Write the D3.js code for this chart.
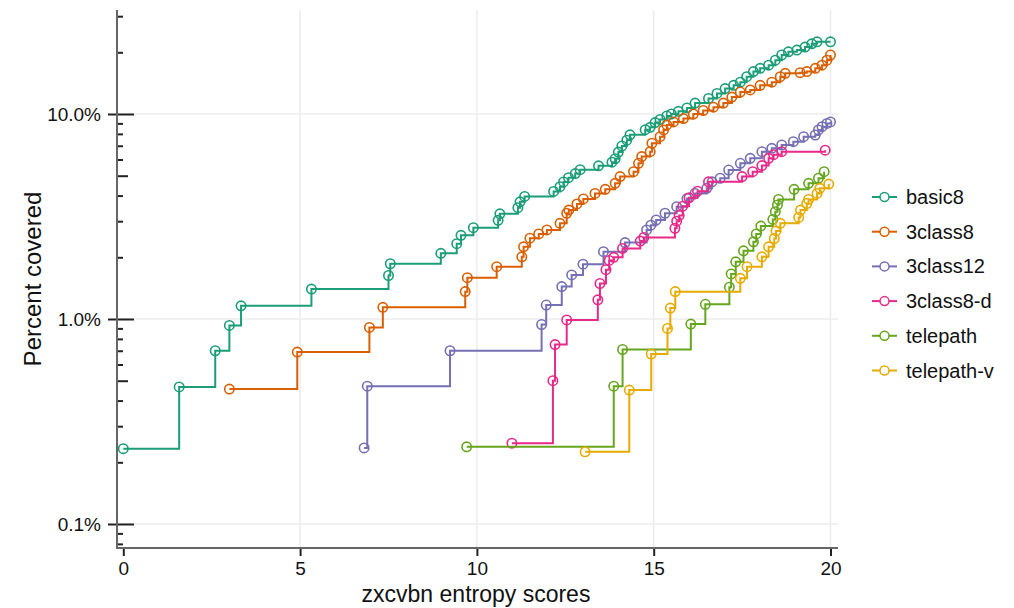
<!DOCTYPE html>
<html>
<head>
<meta charset="utf-8">
<script src="https://d3js.org/d3.v7.min.js"></script>
<style>
  body { margin: 0; background: #fff; }
  text { font-family: "Liberation Sans", Arial, Helvetica, sans-serif; fill: #111; }
</style>
</head>
<body>
<script>
// step plot: share of passwords covered vs zxcvbn entropy score

var seriesNames = ["basic8", "3class8", "3class12", "3class8-d", "telepath", "telepath-v"]
var colors = ["#1b9e77", "#d95f02", "#7570b3", "#e7298a", "#66a61e", "#e6ab02"]

var xTicks = [0, 5, 10, 15, 20]
var yMajor = [0.1, 1, 10]
var yMinor = [0.08, 0.09, 0.2, 0.3, 0.4, 0.5, 0.6, 0.7, 0.8, 0.9,
              2, 3, 4, 5, 6, 7, 8, 9, 20, 30]

// values (x = entropy score, y = percent covered)
var basic8_x = [0, 1.58, 2.6, 3.0, 3.33, 5.32, 7.5, 7.55, 8.98, 9.43, 9.55, 9.9, 10.6, 10.65,
  11.16, 11.22, 11.35, 12.17, 12.35, 12.45, 12.59, 12.78, 12.92, 13.44, 13.82, 13.91, 14.0,
  14.1, 14.24, 14.33, 14.76, 14.9, 15.04, 15.18, 15.37, 15.5, 15.7, 15.94, 16.17, 16.55,
  16.79, 17.02, 17.26, 17.45, 17.63, 17.82, 18.01, 18.25, 18.44, 18.62, 18.81, 19.05,
  19.28, 19.47, 19.62, 20.0]
var basic8_y = [0.233, 0.466, 0.70, 0.93, 1.16, 1.40, 1.63, 1.86, 2.09, 2.33, 2.56, 2.79, 3.03, 3.26,
  3.49, 3.73, 3.96, 4.19, 4.42, 4.66, 4.89, 5.12, 5.35, 5.59, 5.82, 6.05, 6.52,
  6.98, 7.45, 7.91, 8.38, 8.61, 9.08, 9.4, 9.78, 10.0, 10.3, 10.7, 11.3, 11.9,
  12.6, 13.3, 13.8, 14.3, 15.2, 16.1, 16.7, 17.3, 18.3, 19.4, 20.1, 20.5,
  21.2, 22.0, 22.5, 22.5]

var class8_x = [3.0, 4.92, 6.96, 7.34, 9.67, 9.73, 10.56, 11.27, 11.32, 11.5, 11.75, 11.98,
  12.35, 12.54, 12.6, 12.83, 13.01, 13.34, 13.63, 13.91, 14.05, 14.43, 14.57, 14.66, 14.9,
  14.95, 15.18, 15.28, 15.37, 15.56, 15.84, 16.12, 16.4, 16.69, 16.97, 17.21, 17.45, 17.73,
  18.01, 18.34, 18.58, 18.72, 19.14, 19.33, 19.57, 19.76, 19.9, 20.0]
var class8_y = [0.455, 0.69, 0.91, 1.14, 1.36, 1.59, 1.80, 2.01, 2.25, 2.48, 2.6, 2.72,
  2.93, 3.28, 3.4, 3.64, 3.85, 4.1, 4.29, 4.59, 4.95, 5.23, 5.75, 6.2, 6.55,
  7.2, 7.75, 8.36, 8.84, 9.15, 9.5, 10.0, 10.4, 10.8, 11.3, 12.1, 12.8, 13.1,
  13.8, 14.3, 15.2, 15.8, 15.9, 16.1, 16.7, 17.3, 18.3, 19.4]

var class12_x = [6.81, 6.9, 9.24, 11.83, 11.96, 12.4, 12.68, 13.0, 13.58, 14.19, 14.8, 14.92,
  15.07, 15.32, 15.65, 15.94, 16.17, 16.5, 16.65, 16.88, 17.12, 17.45, 17.73, 18.06, 18.34,
  18.62, 18.95, 19.24, 19.57, 19.66, 19.76, 19.9, 20.0]
var class12_y = [0.235, 0.47, 0.70, 0.94, 1.17, 1.44, 1.64, 1.85, 2.13, 2.36, 2.72, 2.87,
  3.04, 3.28, 3.53, 3.87, 4.1, 4.34, 4.67, 4.86, 5.33, 5.75, 6.08, 6.55, 6.8,
  7.06, 7.33, 7.75, 7.9, 8.36, 8.67, 9.0, 9.15]

var class8d_x = [10.99, 12.15, 12.21, 12.54, 13.42, 13.48, 13.65, 13.74, 13.87, 14.12, 14.62,
  14.72, 15.6, 15.65, 15.72, 15.82, 16.0, 16.24, 16.55, 17.5, 17.8, 18.06, 18.25, 18.39,
  18.62, 19.85]
var class8d_y = [0.248, 0.50, 0.75, 0.99, 1.24, 1.49, 1.74, 1.93, 2.0, 2.21, 2.4,
  2.5, 2.77, 3.0, 3.2, 3.55, 3.9, 4.2, 4.67, 4.95, 5.23, 5.6, 6.08, 6.33,
  6.55, 6.66]

var telepath_x = [9.71, 13.87, 14.12, 16.05, 16.46, 17.14, 17.19, 17.32, 17.54, 17.82, 17.9,
  18.03, 18.37, 18.44, 18.5, 18.53, 18.97, 19.38, 19.66, 19.82]
var telepath_y = [0.238, 0.47, 0.71, 0.945, 1.18, 1.43, 1.66, 1.9, 2.15, 2.38, 2.6,
  2.84, 3.06, 3.34, 3.6, 3.83, 4.29, 4.59, 4.86, 5.23]

var telepathv_x = [13.06, 14.31, 14.93, 15.39, 15.47, 15.61, 17.45, 17.64, 18.06, 18.25, 18.41,
  18.46, 18.58, 19.1, 19.15, 19.33, 19.38, 19.62, 19.7, 19.95]
var telepathv_y = [0.225, 0.45, 0.675, 0.90, 1.13, 1.36, 1.58, 1.80, 2.01, 2.25, 2.47,
  2.69, 2.93, 3.13, 3.4, 3.66, 3.83, 4.1, 4.34, 4.55]

var allX = [basic8_x, class8_x, class12_x, class8d_x, telepath_x, telepathv_x]
var allY = [basic8_y, class8_y, class12_y, class8d_y, telepath_y, telepathv_y]

window.onload = function() {
  var series = seriesNames.map(function(name, i) {
    return { name: name, color: colors[i],
             points: allX[i].map(function(x, j) { return [x, allY[i][j]] }) }
  })
  stepplot(series)
}

function stepplot(series) {
  var width = 1014, height = 608
  // plot frame (pixels)
  var left = 117, right = 838, top = 10, bottom = 548

  var svg = d3.select("body")
    .append("svg")
    .attr("width", width)
    .attr("height", height)

  var xscale = d3.scaleLinear()
    .domain([0, 20])
    .range([123.3, 830.5])

  var yscale = d3.scaleLog()
    .domain([0.1, 10])
    .range([524, 114])

  // grid lines
  var grid = svg.append("g")
    .attr("stroke", "#ececec")
    .attr("stroke-width", 1.5)

  grid.selectAll("line.v")
    .data(xTicks.slice(1))
    .enter()
    .append("line")
    .attr("x1", function(d) { return xscale(d) })
    .attr("x2", function(d) { return xscale(d) })
    .attr("y1", top)
    .attr("y2", bottom)

  grid.selectAll("line.h")
    .data(yMajor)
    .enter()
    .append("line")
    .attr("x1", left)
    .attr("x2", right)
    .attr("y1", function(d) { return yscale(d) })
    .attr("y2", function(d) { return yscale(d) })

  // minor y ticks
  var minorAxis = d3.axisLeft(yscale)
    .tickValues(yMinor)
    .tickSize(-6)
    .tickFormat("")

  var minorG = svg.append("g")
    .attr("transform", "translate(" + left + ",0)")
    .call(minorAxis)
  minorG.select(".domain").remove()
  minorG.selectAll(".tick line")
    .attr("stroke", "#222")
    .attr("stroke-width", 2)
    .attr("x2", function(d) { return (d == 5 || d == 0.5) ? 11 : 6 })

  // major y ticks with labels
  var yAxis = d3.axisLeft(yscale)
    .tickValues(yMajor)
    .tickSize(9)
    .tickPadding(7)
    .tickFormat(function(d) { return d.toFixed(1) + "%" })

  var yG = svg.append("g")
    .attr("transform", "translate(" + left + ",0)")
    .call(yAxis)
  yG.select(".domain").remove()
  yG.selectAll(".tick line")
    .attr("stroke", "#222")
    .attr("stroke-width", 2)
    .attr("x1", 17)
  yG.selectAll(".tick text")
    .style("font-size", "19px")
    .style("font-family", "Liberation Sans, Arial, sans-serif")
    .attr("fill", "#111")

  // x axis
  var xAxis = d3.axisBottom(xscale)
    .tickValues(xTicks)
    .tickSize(8)
    .tickPadding(6)

  var xG = svg.append("g")
    .attr("transform", "translate(0," + bottom + ")")
    .call(xAxis)
  xG.select(".domain").remove()
  xG.selectAll(".tick line")
    .attr("stroke", "#222")
    .attr("stroke-width", 2)
  xG.selectAll(".tick text")
    .style("font-size", "19px")
    .style("font-family", "Liberation Sans, Arial, sans-serif")
    .attr("fill", "#111")

  // axis lines
  svg.append("line")
    .attr("x1", left).attr("x2", left)
    .attr("y1", top).attr("y2", bottom + 1)
    .attr("stroke", "#666").attr("stroke-width", 2)
  svg.append("line")
    .attr("x1", left - 1).attr("x2", right)
    .attr("y1", bottom).attr("y2", bottom)
    .attr("stroke", "#666").attr("stroke-width", 2)

  // step lines
  var line = d3.line()
    .x(function(d) { return xscale(d[0]) })
    .y(function(d) { return yscale(d[1]) })
    .curve(d3.curveStepAfter)

  var groups = svg.selectAll("g.series")
    .data(series)
    .enter()
    .append("g")
    .attr("class", "series")

  groups.append("path")
    .attr("d", function(d) { return line(d.points) })
    .attr("fill", "none")
    .attr("stroke", function(d) { return d.color })
    .attr("stroke-width", 2)

  groups.each(function(s) {
    d3.select(this).selectAll("circle")
      .data(s.points)
      .enter()
      .append("circle")
      .attr("cx", function(d) { return xscale(d[0]) })
      .attr("cy", function(d) { return yscale(d[1]) })
      .attr("r", 4.7)
      .attr("fill", "none")
      .attr("stroke", s.color)
      .attr("stroke-width", 1.6)
  })

  // axis titles
  svg.append("text")
    .attr("x", 476)
    .attr("y", 602)
    .attr("text-anchor", "middle")
    .style("font-size", "23px")
    .text("zxcvbn entropy scores")

  svg.append("text")
    .attr("transform", "translate(41,279) rotate(-90)")
    .attr("text-anchor", "middle")
    .style("font-size", "24px")
    .text("Percent covered")

  // legend
  var legend = svg.append("g")
    .attr("class", "legend")
    .attr("transform", "translate(872,197)")

  var rows = legend.selectAll("g")
    .data(series)
    .enter()
    .append("g")
    .attr("transform", function(d, i) { return "translate(0," + (i * 34.7) + ")" })

  rows.append("line")
    .attr("x1", 0).attr("x2", 25)
    .attr("stroke", function(d) { return d.color })
    .attr("stroke-width", 2)

  rows.append("circle")
    .attr("cx", 12.5)
    .attr("r", 4.5)
    .attr("fill", "#fff")
    .attr("stroke", function(d) { return d.color })
    .attr("stroke-width", 1.5)

  rows.append("text")
    .attr("x", 34)
    .attr("y", 7)
    .style("font-size", "20px")
    .text(function(d) { return d.name })
}
</script>
</body>
</html>
